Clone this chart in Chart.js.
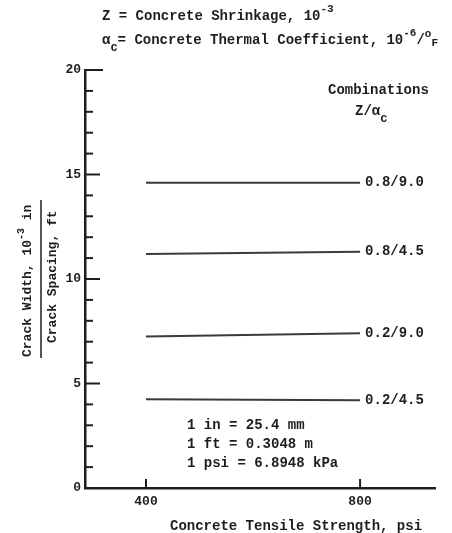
<!DOCTYPE html>
<html>
<head>
<meta charset="utf-8">
<script src="https://cdn.jsdelivr.net/npm/chart.js@4.4.0/dist/chart.umd.min.js"></script>
<style>
  body { margin: 0; background: #fff; }
  #wrap { width: 452px; height: 533px; }
</style>
</head>
<body>
<div id="wrap"><canvas id="grafico" width="452" height="533"></canvas></div>
<script>
// data
const strength = [400, 800];
const combos = ['0.8/9.0', '0.8/4.5', '0.2/9.0', '0.2/4.5'];
const comb_08_90 = [14.6, 14.6];
const comb_08_45 = [11.2, 11.3];
const comb_02_90 = [7.25, 7.4];
const comb_02_45 = [4.25, 4.2];
const xTickLabels = [400, 800];
const yTickLabels = [0, 5, 10, 15, 20];
const notes = ['1 in = 25.4 mm', '1 ft = 0.3048 m', '1 psi = 6.8948 kPa'];

const FONT = "'Liberation Mono', 'Courier New', monospace";
const INK = '#1e1e1e';

function pts(ys) {
  return strength.map((x, i) => ({ x: x, y: ys[i] }));
}

// draw text pieces with super/subscripts, left to right
function runs(ctx, x, y, parts) {
  ctx.textBaseline = 'middle';
  ctx.textAlign = 'left';
  parts.forEach(p => {
    ctx.font = 'bold ' + (p.size || 14) + 'px ' + FONT;
    ctx.fillText(p.t, x, y + (p.dy || 0));
    x += ctx.measureText(p.t).width;
  });
}

const extras = {
  id: 'extras',
  afterDraw(chart) {
    const ctx = chart.ctx;
    const xs = chart.scales.x, ys = chart.scales.y;
    const left = chart.chartArea.left, bottom = chart.chartArea.bottom;
    ctx.save();
    ctx.fillStyle = INK;
    ctx.strokeStyle = INK;

    // inward tick marks
    ctx.lineWidth = 2;
    ys.ticks.forEach(t => {
      const py = ys.getPixelForValue(t.value);
      let len = 8;
      if (t.value % 5 === 0) len = 15;
      if (t.value === 20) len = 18;
      if (t.value === 0) return;
      ctx.beginPath();
      ctx.moveTo(left, py);
      ctx.lineTo(left + len, py);
      ctx.stroke();
    });
    xTickLabels.forEach(v => {
      const px = xs.getPixelForValue(v);
      ctx.beginPath();
      ctx.moveTo(px, bottom);
      ctx.lineTo(px, bottom - 9);
      ctx.stroke();
    });

    // labels at line ends
    chart.data.datasets.forEach((ds, i) => {
      const meta = chart.getDatasetMeta(i);
      const last = meta.data[meta.data.length - 1];
      runs(ctx, last.x + 5, last.y, [{ t: combos[i] }]);
    });

    // header
    runs(ctx, 102, 16, [{ t: 'Z = Concrete Shrinkage, 10' }, { t: '-3', size: 11, dy: -7 }]);
    runs(ctx, 102, 40, [
      { t: 'α' }, { t: 'c', size: 12, dy: 8 },
      { t: '= Concrete Thermal Coefficient, 10' },
      { t: '-6', size: 11, dy: -7 }, { t: '/' },
      { t: 'o', size: 11, dy: -6 }, { t: 'F', size: 11, dy: 3 }
    ]);
    runs(ctx, 328, 90, [{ t: 'Combinations' }]);
    runs(ctx, 355, 111, [{ t: 'Z/α' }, { t: 'c', size: 12, dy: 8 }]);

    // unit conversions
    notes.forEach((n, i) => runs(ctx, 187, 425 + i * 19, [{ t: n }]));

    // x title
    runs(ctx, 170, 526, [{ t: 'Concrete Tensile Strength, psi' }]);

    // y title as a fraction
    ctx.save();
    ctx.translate(28, 357);
    ctx.rotate(-Math.PI / 2);
    runs(ctx, 0, 0, [{ t: 'Crack Width, 10', size: 13 }, { t: '-3', size: 10, dy: -7 }, { t: ' in', size: 13 }]);
    ctx.restore();
    ctx.save();
    ctx.translate(53, 343);
    ctx.rotate(-Math.PI / 2);
    runs(ctx, 0, 0, [{ t: 'Crack Spacing, ft', size: 13 }]);
    ctx.restore();
    ctx.lineWidth = 1.5;
    ctx.beginPath();
    ctx.moveTo(41, 358);
    ctx.lineTo(41, 200);
    ctx.stroke();

    ctx.restore();
  }
};

function init() {
  const el = document.getElementById('grafico');
  const lineStyle = { borderColor: '#3a3a3a', borderWidth: 2, pointRadius: 0, fill: false, tension: 0 };
  new Chart(el, {
    type: 'line',
    data: {
      datasets: [
        { label: combos[0], data: pts(comb_08_90), ...lineStyle },
        { label: combos[1], data: pts(comb_08_45), ...lineStyle },
        { label: combos[2], data: pts(comb_02_90), ...lineStyle },
        { label: combos[3], data: pts(comb_02_45), ...lineStyle }
      ]
    },
    options: {
      responsive: false,
      animation: false,
      layout: { padding: { left: 55, top: 70, right: 17, bottom: 0 } },
      plugins: { legend: { display: false }, tooltip: { enabled: false } },
      scales: {
        x: {
          type: 'linear',
          min: 286,
          max: 940,
          afterBuildTicks: s => { s.ticks = xTickLabels.map(v => ({ value: v })); },
          afterFit: s => { s.height = 45; },
          grid: { display: false, drawTicks: false },
          border: { display: true, color: INK, width: 2.5 },
          ticks: { padding: 6, color: INK, font: { family: FONT, size: 13, weight: 'bold' }, maxRotation: 0 }
        },
        y: {
          min: 0,
          max: 20,
          ticks: {
            stepSize: 1,
            padding: 4,
            color: INK,
            font: { family: FONT, size: 13, weight: 'bold' },
            callback: v => yTickLabels.includes(v) ? String(v) : ''
          },
          afterFit: s => { s.width = 30; },
          grid: { display: false, drawTicks: false },
          border: { display: true, color: INK, width: 2.5 }
        }
      }
    },
    plugins: [extras]
  });
}

init();
</script>
</body>
</html>
